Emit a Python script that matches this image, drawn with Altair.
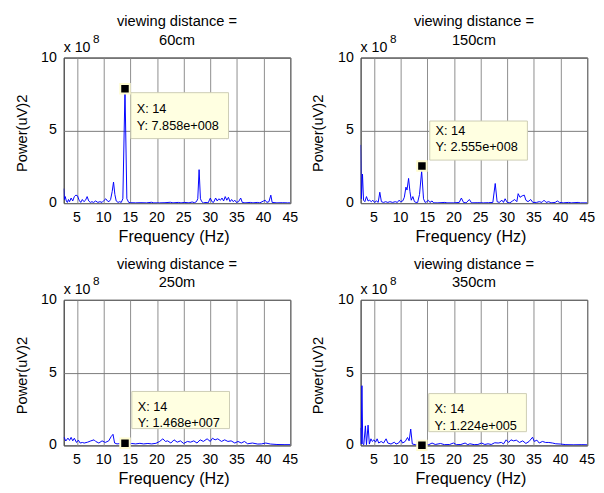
import altair as alt
import pandas as pd

FONT = "Liberation Sans"

# ---- data (power in units of 1e8 (uV)^2) ----
distances = ["60cm", "150cm", "250m", "350cm"]

f1 = [2.5, 2.65, 2.8, 3.0, 3.2, 3.4, 3.6, 3.9, 4.2, 4.5, 4.8, 5.1, 5.4, 5.7, 6.0, 6.3, 6.6, 6.9,
      7.2, 7.5, 7.8, 8.1, 8.5, 8.9, 9.3, 9.7, 10.1, 10.4, 10.7, 11.0, 11.3, 11.6, 11.85, 12.1,
      12.35, 12.7, 13.0, 13.3, 13.6, 14.0, 14.35, 14.7, 15.0, 16.0, 17.0, 18.0, 19.0, 19.4,
      20.5, 21.5, 22.5, 23.0, 24.0, 24.5, 25.2, 26.0, 26.6, 27.0, 27.4, 27.65, 27.9, 28.15,
      28.4, 28.7, 29.2, 29.6, 30.0, 30.3, 30.6, 31.0, 31.3, 31.6, 31.9, 32.2, 32.5, 32.8, 33.1,
      33.4, 33.7, 34.0, 34.3, 34.6, 34.9, 35.3, 35.7, 36.0, 36.5, 37.5, 38.0, 38.8, 39.3, 40.0,
      40.3, 40.6, 41.0, 41.35, 41.6, 42.5, 43.5, 44.5, 45.0]
p1 = [1.0, 0.25, 0.45, 0.15, 0.05, 0.25, 0.1, 0.35, 0.15, 0.45, 0.55, 0.5, 0.2, 0.05, 0.25, 0.1,
      0.2, 0.45, 0.15, 0.05, 0.1, 0.05, 0.15, 0.05, 0.1, 0.05, 0.2, 0.3, 0.15, 0.1, 0.25, 0.8,
      1.45, 0.6, 0.15, 0.05, 0.1, 0.05, 0.3, 7.8, 0.3, 0.05, 0.03, 0.02, 0.03, 0.02, 0.06, 0.02,
      0.02, 0.03, 0.06, 0.02, 0.05, 0.02, 0.05, 0.02, 0.08, 0.03, 0.1, 0.3, 2.3, 0.3,
      0.1, 0.02, 0.05, 0.02, 0.35, 0.1, 0.05, 0.35, 0.15, 0.3, 0.2, 0.35, 0.15, 0.45, 0.2,
      0.4, 0.1, 0.25, 0.1, 0.2, 0.05, 0.1, 0.35, 0.05, 0.02, 0.05, 0.02, 0.05, 0.02, 0.15,
      0.2, 0.05, 0.1, 0.55, 0.05, 0.02, 0.03, 0.02, 0.02]

f2 = [2.5, 2.65, 2.85, 3.05, 3.3, 3.6, 3.9, 4.2, 4.5, 4.8, 5.1, 5.5, 5.8, 6.1, 6.4, 6.8, 7.2,
      7.6, 8.0, 8.5, 9.0, 9.4, 9.7, 10.0, 10.4, 10.7, 11.0, 11.2, 11.5, 11.75, 12.0, 12.3, 12.6,
      12.9, 13.2, 13.55, 13.95, 14.3, 14.6, 14.9, 15.2, 15.5, 15.9, 16.2, 17.0, 18.3, 18.7,
      20.0, 21.0, 21.4, 21.8, 22.3, 22.9, 23.3, 24.5, 25.5, 26.5, 27.3, 27.75, 28.1, 28.5, 29.0,
      29.3, 29.6, 30.0, 30.5, 31.0, 31.4, 31.8, 32.05, 32.4, 32.8, 33.2, 33.5, 33.9, 34.4, 34.8,
      35.5, 36.0, 36.5, 36.9, 37.3, 37.8, 38.2, 39.0, 39.4, 39.8, 40.5, 41.5, 42.0, 43.3, 43.7,
      45.0]
p2 = [4.0, 0.3, 2.0, 0.2, 0.1, 0.45, 0.15, 0.2, 0.1, 0.2, 0.05, 0.15, 0.05, 0.75, 0.1, 0.05, 0.1,
      0.05, 0.1, 0.05, 0.1, 0.05, 0.2, 0.1, 0.15, 0.4, 1.1, 0.9, 1.7, 0.8, 0.2, 0.45, 0.1,
      0.05, 0.05, 0.6, 2.2, 0.3, 0.05, 0.1, 0.2, 0.05, 0.15, 0.02, 0.02, 0.05, 0.02,
      0.02, 0.05, 0.35, 0.05, 0.02, 0.25, 0.02, 0.03, 0.02, 0.03, 0.05, 1.35, 0.1, 0.05, 0.2,
      0.05, 0.3, 0.05, 0.02, 0.15, 0.25, 0.1, 0.65, 0.4, 0.5, 0.55, 0.2, 0.1, 0.25, 0.05,
      0.05, 0.1, 0.05, 0.2, 0.05, 0.1, 0.02, 0.05, 0.15, 0.05, 0.02, 0.05, 0.02, 0.05, 0.02,
      0.02]

f3 = [2.5, 2.6, 2.9, 3.3, 3.6, 3.9, 4.2, 4.5, 4.9, 5.25, 5.6, 6.0, 6.35, 7.0, 7.6, 8.2, 8.5,
      9.1, 9.7, 10.3, 10.95, 11.4, 11.75, 12.05, 12.5, 13.0, 13.5, 14.0, 14.5, 15.25, 16.0,
      16.8, 17.5, 18.3, 19.0, 19.8, 20.5, 21.1, 21.6, 22.0, 22.6, 23.2, 23.8, 24.4, 25.0,
      25.7, 26.3, 26.9, 27.5, 28.1, 28.7, 29.4, 30.0, 30.4, 30.9, 31.4, 32.1, 32.7, 33.3,
      33.9, 34.6, 35.2, 35.8, 36.4, 37.0, 37.9, 38.9, 39.6, 40.4, 41.3, 42.5, 44.0, 45.0]
p3 = [0.5, 0.54, 0.3, 0.5, 0.34, 0.55, 0.31, 0.49, 0.2, 0.36, 0.16, 0.2, 0.16, 0.22, 0.31, 0.38,
      0.27, 0.16, 0.31, 0.2, 0.31, 0.6, 0.76, 0.16, 0.1, 0.12, 0.1, 0.1468, 0.08, 0.13, 0.1,
      0.14, 0.1, 0.13, 0.1, 0.14, 0.27, 0.45, 0.27, 0.31, 0.16, 0.38, 0.22, 0.31, 0.13,
      0.27, 0.22, 0.31, 0.16, 0.38, 0.27, 0.45, 0.27, 0.49, 0.38, 0.45, 0.27, 0.38, 0.27,
      0.31, 0.16, 0.27, 0.16, 0.27, 0.11, 0.16, 0.09, 0.1, 0.16, 0.09, 0.06, 0.05, 0.05]

f4 = [2.5, 2.6, 2.75, 2.9, 3.1, 3.4, 3.6, 3.9, 4.14, 4.44, 4.69, 5.0, 5.3, 5.6, 5.9, 6.36, 6.8,
      7.28, 7.6, 8.2, 8.83, 9.14, 9.63, 10.06, 10.37, 10.86, 11.3, 11.6, 11.9, 12.2, 12.8,
      13.5, 14.0, 14.6, 15.3, 15.9, 16.5, 17.5, 18.2, 19.2, 19.9, 20.5, 21.3, 22.1, 22.6,
      23.0, 23.8, 24.5, 25.2, 25.8, 26.4, 27.0, 27.65, 28.3, 28.9, 29.3, 29.8, 30.25, 30.7,
      31.2, 31.7, 32.3, 32.9, 33.5, 34.1, 34.75, 35.06, 35.56, 36.0, 36.6, 37.2, 37.8, 38.5,
      39.1, 40.0, 41.0, 42.5, 44.0, 45.0]
p4 = [1.2, 0.1, 4.1, 0.1, 0.05, 1.34, 0.05, 1.39, 0.09, 0.45, 0.27, 0.38, 0.22, 0.45, 0.16,
      0.27, 0.16, 0.45, 0.16, 0.09, 0.22, 0.09, 0.16, 0.38, 0.16, 0.27, 0.54, 0.31, 1.12, 0.09,
      0.05, 0.03, 0.0012, 0.03, 0.05, 0.16, 0.06, 0.13, 0.05, 0.06, 0.16, 0.05, 0.06, 0.16,
      0.05, 0.11, 0.05, 0.06, 0.16, 0.06, 0.11, 0.06, 0.18, 0.16, 0.2, 0.1, 0.38, 0.2, 0.38,
      0.31, 0.36, 0.2, 0.31, 0.13, 0.27, 0.56, 0.27, 0.36, 0.16, 0.27, 0.2, 0.2, 0.16,
      0.11, 0.09, 0.05, 0.04, 0.05, 0.04]

freqs = [f1, f2, f3, f4]
powers = [p1, p2, p3, p4]

# data tips
tip_x = [14, 14, 14, 14]
tip_y = [7.858, 2.555, 0.1468, 0.001224]
tip_xlabel = ["X: 14", "X: 14", "X: 14", "X: 14"]
tip_ylabel = ["Y: 7.858e+008", "Y: 2.555e+008", "Y: 1.468e+007", "Y: 1.224e+005"]

x_ticks = [5, 10, 15, 20, 25, 30, 35, 40, 45]
y_ticks = [0, 5, 10]
x_title = "Frequency (Hz)"
y_title = "Power(uV)2"

# data-tip box placement (pixel offsets from the marker) - style only
box_dx = [6, 8, 7, 7]
box_top = [4, -46, -53, -53]
box_h = [47, 40, 38, 39]
txt1 = [17, 10, 16, 16]
txt2 = [34, 27, 32, 33]

W, H = 232, 149
LBL = 14.5
TTL = 15
XTTL = 16.5

AX_COMMON = dict(labels=False, title=None, domain=False, ticks=False, grid=True,
                 gridOpacity=1, gridWidth=1)


def encs():
    xenc = alt.X("f:Q", scale=alt.Scale(domain=[2.5, 45], nice=False, zero=False),
                 axis=alt.Axis(values=x_ticks, gridColor="#8c8c8c", **AX_COMMON))
    yenc = alt.Y("p:Q", scale=alt.Scale(domain=[0, 10], nice=False),
                 axis=alt.Axis(values=y_ticks, gridColor="#7a7a7a", **AX_COMMON))
    return xenc, yenc


def panel(i):
    xenc, yenc = encs()
    df = pd.DataFrame({"f": freqs[i], "p": powers[i]})
    line = alt.Chart(df).mark_line(color="#0000ff", strokeWidth=1, clip=True).encode(
        x=xenc, y=yenc)

    # tick labels and axis titles as text marks
    xl = alt.Chart(pd.DataFrame({"f": x_ticks, "lab": [str(v) for v in x_ticks]})).mark_text(
        align="center", baseline="top", font=FONT, fontSize=LBL, color="black").encode(
        x=xenc, y=alt.value(H + 8), text="lab:N")
    yl = alt.Chart(pd.DataFrame({"p": y_ticks, "lab": [str(v) for v in y_ticks]})).mark_text(
        align="right", baseline="middle", font=FONT, fontSize=LBL, color="black").encode(
        x=alt.value(-7), y=yenc, text="lab:N")
    tdf = pd.DataFrame({"xt": [x_title], "yt": [y_title]})
    xt = alt.Chart(tdf).mark_text(align="center", baseline="alphabetic", font=FONT,
                                  fontSize=XTTL, color="black").encode(
        x=alt.value(W / 2 - 3), y=alt.value(H + 40), text="xt:N")
    yt = alt.Chart(tdf).mark_text(align="center", baseline="middle", font=FONT,
                                  fontSize=TTL, color="black", angle=270).encode(
        x=alt.value(-43), y=alt.value(H / 2 + 3), text="yt:N")

    tip = pd.DataFrame({"f": [tip_x[i]], "p": [tip_y[i]],
                        "t1": [tip_xlabel[i]], "t2": [tip_ylabel[i]]})
    base = alt.Chart(tip).encode(x=xenc, y=yenc)
    box = base.mark_rect(fill="#ffffe1", stroke="#cdcdb4", strokeWidth=1,
                         xOffset=box_dx[i], x2Offset=box_dx[i] + 100,
                         yOffset=box_top[i], y2Offset=box_top[i] + box_h[i]).encode(
        x2=alt.X2("f"), y2=alt.Y2("p"))
    t1 = base.mark_text(align="left", baseline="middle", font=FONT, fontSize=13, color="black",
                        dx=box_dx[i] + 6, dy=box_top[i] + txt1[i]).encode(text="t1:N")
    t2 = base.mark_text(align="left", baseline="middle", font=FONT, fontSize=13, color="black",
                        dx=box_dx[i] + 6, dy=box_top[i] + txt2[i]).encode(text="t2:N")
    marker = base.mark_square(size=94, filled=True, color="black", stroke="#fffcd0",
                              strokeWidth=2, opacity=1)

    exp_df = pd.DataFrame({"a": ["x 10"], "b": ["8"]})
    ex1 = alt.Chart(exp_df).mark_text(align="left", baseline="alphabetic", font=FONT,
                                      fontSize=14.5, color="black").encode(
        x=alt.value(0), y=alt.value(-6), text="a:N")
    ex2 = alt.Chart(exp_df).mark_text(align="left", baseline="alphabetic", font=FONT,
                                      fontSize=12, color="black").encode(
        x=alt.value(30), y=alt.value(-15), text="b:N")

    return alt.layer(line, xl, yl, xt, yt, box, t1, t2, marker, ex1, ex2).properties(
        width=W, height=H,
        title=alt.TitleParams(text=["viewing distance =", distances[i]], fontSize=TTL,
                              fontWeight="normal", font=FONT, color="black",
                              anchor="middle", frame="group", offset=-15, lineHeight=19))


chart = alt.concat(*[panel(i) for i in range(4)], columns=2,
                   spacing={"row": 99, "column": 72}, bounds="flush").properties(
    padding={"left": 6, "top": 0, "right": 0, "bottom": 0}
).configure_view(stroke="black", strokeWidth=1)

chart.save("out.html", embed_options={"renderer": "svg", "actions": False})
